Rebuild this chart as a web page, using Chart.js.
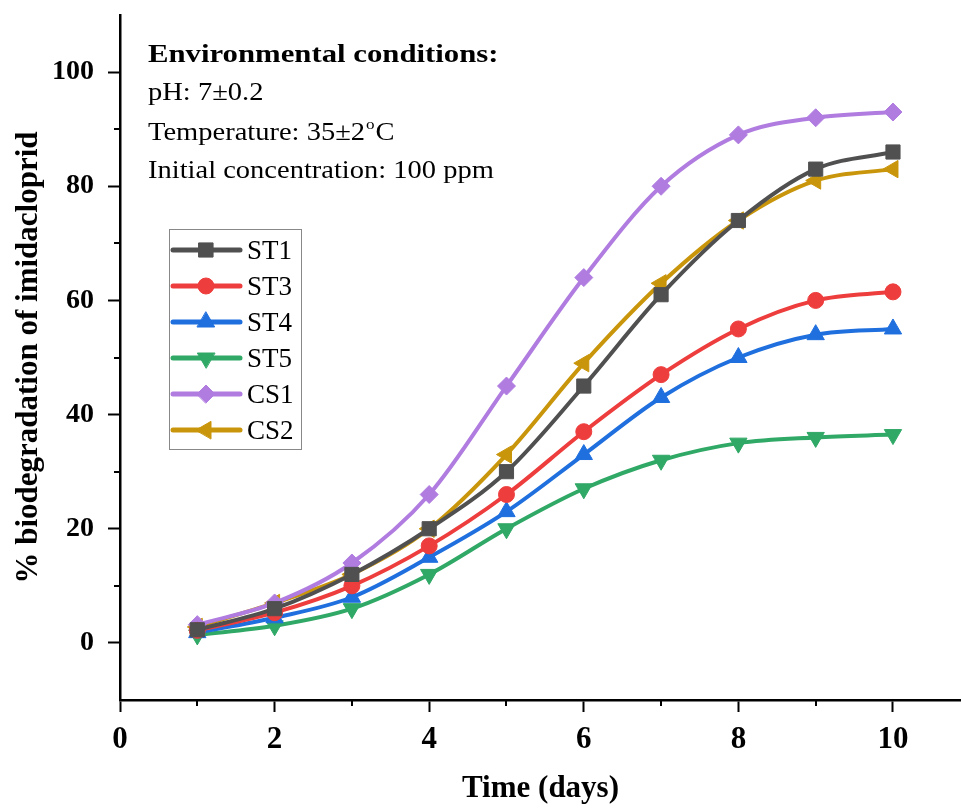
<!DOCTYPE html>
<html>
<head>
<meta charset="utf-8">
<script src="https://cdn.jsdelivr.net/npm/chart.js@4.4.0/dist/chart.umd.min.js"></script>
<style>
  html, body { margin: 0; padding: 0; background: #fff; }
</style>
</head>
<body>
<canvas id="chartCanvas" width="961" height="808"></canvas>
<script>
// data
const days = [1, 2, 3, 4, 5, 6, 7, 8, 9, 10];
const st1 = [2.3, 6, 12, 20, 30, 45, 61, 74, 83, 86];
const st3 = [2.2, 5.3, 10, 17, 26, 37, 47, 55, 60, 61.5];
const st4 = [1.8, 4.4, 8, 15, 23, 33, 43, 50, 54, 55];
const st5 = [1.4, 3, 6, 12, 20, 27, 32, 35, 36, 36.5];
const cs1 = [3.2, 7, 14, 26, 45, 64, 80, 89, 92, 93];
const cs2 = [2.8, 7, 12, 20, 33, 49, 63, 74, 81, 83];
const seriesNames = ["ST1", "ST3", "ST4", "ST5", "CS1", "CS2"];
const xTickValues = [0, 1, 2, 3, 4, 5, 6, 7, 8, 9, 10];
const yTickValues = [0, 10, 20, 30, 40, 50, 60, 70, 80, 90, 100];
const conditionsTitle = "Environmental conditions:";
const conditionLines = ["pH: 7\u00b10.2", "Temperature: 35\u00b12", "Initial concentration: 100 ppm"];

const SERIF = "'Liberation Serif', 'Times New Roman', serif";

const styles = [
    { color: "#505050", pointStyle: "rect", rotation: 0, radius: 10 },
    { color: "#ee3d3d", pointStyle: "circle", rotation: 0, radius: 8 },
    { color: "#1f6fde", pointStyle: "triangle", rotation: 0, radius: 10 },
    { color: "#30a866", pointStyle: "triangle", rotation: 180, radius: 10 },
    { color: "#b07ce0", pointStyle: "rectRot", rotation: 0, radius: 9 },
    { color: "#c9950a", pointStyle: "triangle", rotation: -90, radius: 10 },
];
const values = [st1, st3, st4, st5, cs1, cs2];

const datasets = seriesNames.map((name, i) => ({
    label: name,
    data: days.map((d, j) => ({ x: d, y: values[i][j] })),
    borderColor: styles[i].color,
    backgroundColor: styles[i].color,
    borderWidth: 4,
    cubicInterpolationMode: "monotone",
    pointStyle: styles[i].pointStyle,
    rotation: styles[i].rotation,
    pointRadius: styles[i].radius,
    pointHoverRadius: styles[i].radius,
    pointBorderWidth: 1,
    pointBorderColor: styles[i].color,
    pointBackgroundColor: styles[i].color,
}));

// draw text stretched horizontally, as in the original export
function wideText(ctx, text, x, y, sx) {
    ctx.save();
    ctx.translate(x, y);
    ctx.scale(sx, 1);
    ctx.fillText(text, 0, 0);
    ctx.restore();
    return ctx.measureText(text).width * sx;
}

// minor ticks, legend box and the condition notes
const decorations = {
    id: "decorations",
    afterDraw(chart) {
        const ctx = chart.ctx;
        const xs = chart.scales.x, ys = chart.scales.y;
        ctx.save();
        ctx.strokeStyle = "#000";
        ctx.lineWidth = 2;
        xTickValues.filter(v => v % 2).forEach(v => {
            const px = Math.round(xs.getPixelForValue(v));
            ctx.beginPath();
            ctx.moveTo(px, xs.top);
            ctx.lineTo(px, xs.top + 6);
            ctx.stroke();
        });
        yTickValues.filter(v => v % 20).forEach(v => {
            const py = Math.round(ys.getPixelForValue(v));
            ctx.beginPath();
            ctx.moveTo(ys.right, py);
            ctx.lineTo(ys.right - 6, py);
            ctx.stroke();
        });

        // legend
        ctx.strokeStyle = "#888";
        ctx.lineWidth = 1;
        ctx.strokeRect(169.5, 229.5, 132, 220);
        ctx.font = "27px " + SERIF;
        ctx.textBaseline = "middle";
        ctx.textAlign = "left";
        seriesNames.forEach((name, i) => {
            const y = 250 + i * 36;
            ctx.strokeStyle = styles[i].color;
            ctx.lineWidth = 5;
            ctx.lineCap = "round";
            ctx.beginPath();
            ctx.moveTo(173, y);
            ctx.lineTo(240, y);
            ctx.stroke();
            ctx.fillStyle = styles[i].color;
            ctx.lineWidth = 1;
            Chart.helpers.drawPoint(ctx, {
                pointStyle: styles[i].pointStyle,
                rotation: styles[i].rotation,
                radius: styles[i].radius,
                borderWidth: 1,
            }, 206, y);
            ctx.fillStyle = "#000";
            ctx.fillText(name, 247, y + 2);
        });

        // condition notes
        ctx.fillStyle = "#000";
        ctx.textBaseline = "alphabetic";
        ctx.font = "bold 25px " + SERIF;
        wideText(ctx, conditionsTitle, 148, 62, 1.23);
        ctx.font = "25px " + SERIF;
        const baselines = [100, 140, 178];
        const sx = 1.14;
        let w = 0;
        conditionLines.forEach((t, i) => {
            const ww = wideText(ctx, t, 148, baselines[i], sx);
            if (i === 1) w = ww;
        });
        ctx.font = "15px " + SERIF;
        const ow = wideText(ctx, "o", 148 + w + 1, 129, sx);
        ctx.font = "25px " + SERIF;
        wideText(ctx, "C", 148 + w + ow + 2, 140, sx);
        ctx.restore();
    }
};

const ctx = document.getElementById("chartCanvas").getContext("2d");
const chart = new Chart(ctx, {
    type: "line",
    data: { datasets: datasets },
    options: {
        responsive: false,
        animation: false,
        layout: { autoPadding: false, padding: { top: 15, right: 0, left: 0, bottom: 0 } },
        plugins: {
            legend: { display: false },
            tooltip: { enabled: false },
        },
        scales: {
            x: {
                type: "linear",
                min: 0,
                max: 10.88,
                afterBuildTicks: s => { s.ticks = xTickValues.map(v => ({ value: v })); },
                afterFit: s => { s.height = 108; s.paddingLeft = 0; s.paddingRight = 0; },
                border: { display: true, color: "#000", width: 2.5 },
                grid: {
                    drawOnChartArea: false,
                    tickLength: 12,
                    tickWidth: 2,
                    tickColor: c => (c.tick && c.tick.value % 2 ? "rgba(0,0,0,0)" : "#000"),
                },
                ticks: {
                    autoSkip: false,
                    maxRotation: 0,
                    padding: 9,
                    color: "#000",
                    font: { family: SERIF, size: 31, weight: "bold" },
                    callback: v => (v % 2 === 0 ? v : ""),
                },
                title: {
                    display: true,
                    text: "Time (days)",
                    color: "#000",
                    font: { family: SERIF, size: 31, weight: "bold" },
                    padding: { top: 0, bottom: 0 },
                },
            },
            y: {
                min: -10,
                max: 110,
                afterBuildTicks: s => { s.ticks = yTickValues.map(v => ({ value: v })); },
                afterFit: s => { s.width = 120; s.paddingTop = 0; s.paddingBottom = 0; },
                border: { display: true, color: "#000", width: 2.5 },
                grid: {
                    drawOnChartArea: false,
                    tickLength: 12,
                    tickWidth: 2,
                    tickColor: c => (c.tick && c.tick.value % 20 ? "rgba(0,0,0,0)" : "#000"),
                },
                ticks: {
                    autoSkip: false,
                    padding: 14,
                    color: "#000",
                    font: { family: SERIF, size: 28, weight: "bold" },
                    callback: v => (v % 20 === 0 ? v : ""),
                },
                title: {
                    display: true,
                    text: "% biodegradation of imidacloprid",
                    color: "#000",
                    font: { family: SERIF, size: 31, weight: "bold" },
                    padding: { top: 10, bottom: 0 },
                },
            },
        },
    },
    plugins: [decorations],
});
</script>
</body>
</html>
